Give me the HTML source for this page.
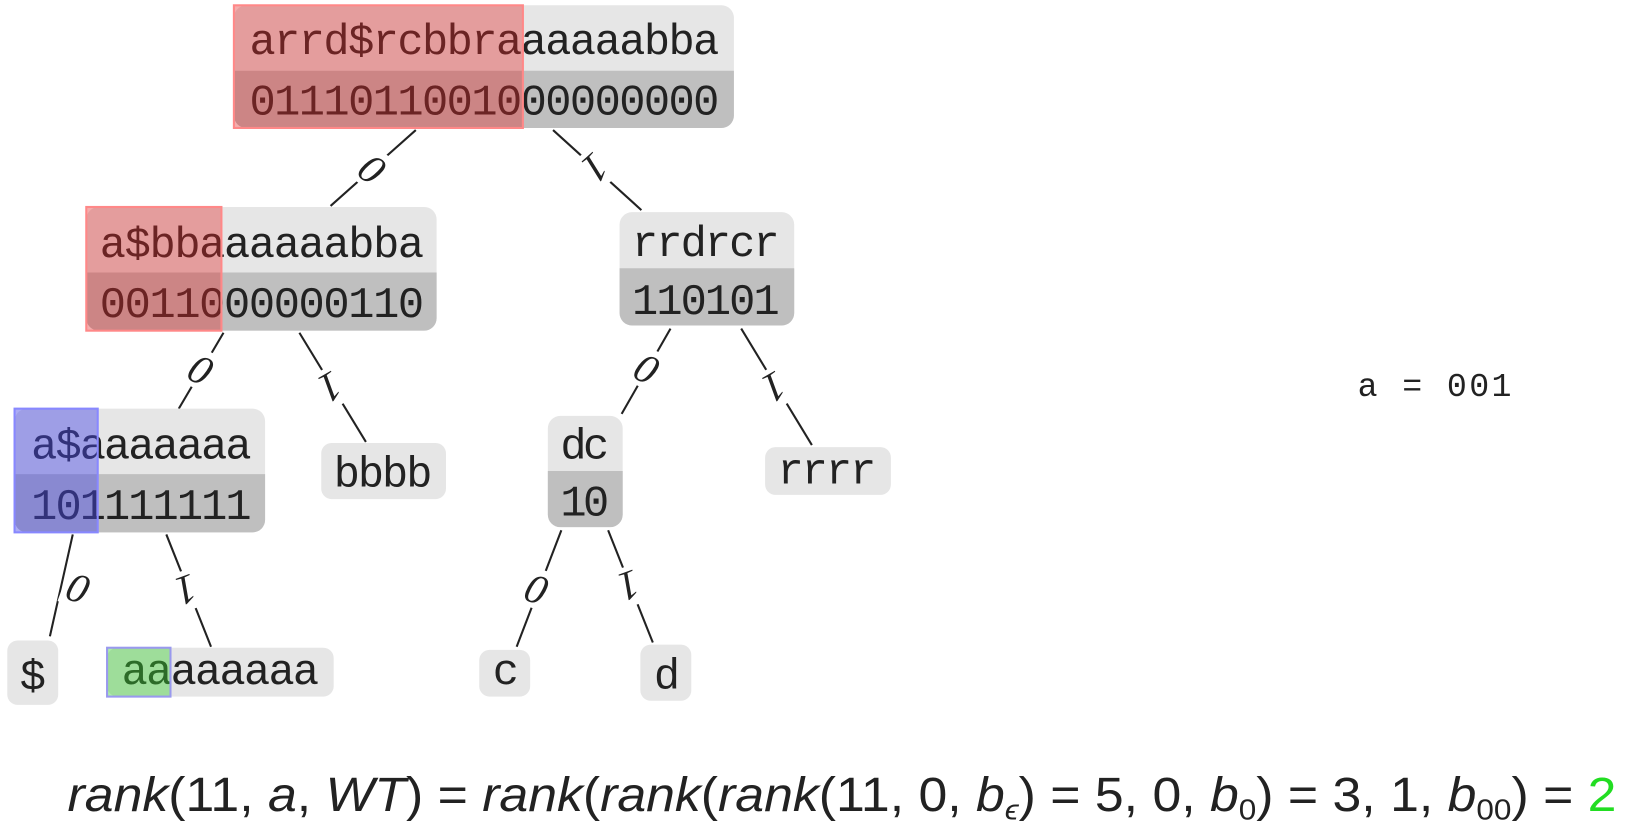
<!DOCTYPE html>
<html><head><meta charset="utf-8"><style>
html,body{margin:0;padding:0;background:#fff;width:1630px;height:836px;overflow:hidden}
svg{display:block}
.m{font-family:"Liberation Mono","DejaVu Sans Mono",monospace;font-size:42px;fill:#222}
.l{font-family:"Liberation Serif",serif;font-style:italic;font-size:40px;fill:#222}
</style></head><body>
<svg width="1630" height="836" viewBox="0 0 1568 804" xmlns="http://www.w3.org/2000/svg">
<g stroke="#222" stroke-width="2">
<line x1="400" y1="125" x2="318" y2="198"/>
<line x1="532" y1="125" x2="617" y2="202"/>
<line x1="215" y1="320" x2="172" y2="393"/>
<line x1="288" y1="320" x2="352" y2="425"/>
<line x1="645" y1="316" x2="598" y2="398"/>
<line x1="713" y1="316" x2="781" y2="428"/>
<line x1="70" y1="514" x2="48" y2="612"/>
<line x1="160" y1="514" x2="203" y2="622"/>
<line x1="540" y1="510" x2="497" y2="622"/>
<line x1="585" y1="510" x2="628" y2="618"/>
</g>
<g class="l" text-anchor="middle">
<g transform="translate(358,162) rotate(38)"><rect x="-14" y="-19" width="28" height="38" fill="#fff"/><text y="14">0</text></g>
<g transform="translate(573,162) rotate(138)"><rect x="-14" y="-19" width="28" height="38" fill="#fff"/><text y="14">1</text></g>
<g transform="translate(193,355) rotate(28)"><rect x="-14" y="-19" width="28" height="38" fill="#fff"/><text y="14">0</text></g>
<g transform="translate(318,373) rotate(150)"><rect x="-14" y="-19" width="28" height="38" fill="#fff"/><text y="14">1</text></g>
<g transform="translate(622,354) rotate(28)"><rect x="-14" y="-19" width="28" height="38" fill="#fff"/><text y="14">0</text></g>
<g transform="translate(745,373) rotate(150)"><rect x="-14" y="-19" width="28" height="38" fill="#fff"/><text y="14">1</text></g>
<g transform="translate(75,565) rotate(20)"><rect x="-14" y="-19" width="28" height="38" fill="#fff"/><text y="14">0</text></g>
<g transform="translate(179,568) rotate(160)"><rect x="-14" y="-19" width="28" height="38" fill="#fff"/><text y="14">1</text></g>
<g transform="translate(516,566) rotate(20)"><rect x="-14" y="-19" width="28" height="38" fill="#fff"/><text y="14">0</text></g>
<g transform="translate(605,564) rotate(160)"><rect x="-14" y="-19" width="28" height="38" fill="#fff"/><text y="14">1</text></g>
</g>
<!-- root -->
<rect x="225" y="5" width="481" height="118" rx="12" fill="#e6e6e6"/>
<path d="M225 68 H706 V111 a12 12 0 0 1 -12 12 H237 a12 12 0 0 1 -12 -12Z" fill="#bfbfbf"/>
<text class="m" x="240" y="52" textLength="452">arrd$rcbbraaaaaabba</text>
<text class="m" x="240" y="110" textLength="452">0111011001000000000</text>
<rect x="225" y="5" width="278" height="118" fill="rgba(225,40,40,0.38)" stroke="#f88" stroke-width="2"/>
<!-- a$bba -->
<rect x="83" y="199" width="337" height="119" rx="12" fill="#e6e6e6"/>
<path d="M83 262 H420 V306 a12 12 0 0 1 -12 12 H95 a12 12 0 0 1 -12 -12Z" fill="#bfbfbf"/>
<text class="m" x="96" y="247" textLength="312">a$bbaaaaaabba</text>
<text class="m" x="96" y="305" textLength="312">0011000000110</text>
<rect x="83" y="199" width="130" height="119" fill="rgba(225,40,40,0.38)" stroke="#f88" stroke-width="2"/>
<!-- rrdrcr -->
<rect x="596" y="204" width="168" height="109" rx="12" fill="#e6e6e6"/>
<path d="M596 258 H764 V301 a12 12 0 0 1 -12 12 H608 a12 12 0 0 1 -12 -12Z" fill="#bfbfbf"/>
<text class="m" x="608" y="246" textLength="142">rrdrcr</text>
<text class="m" x="608" y="302" textLength="142">110101</text>
<!-- a$a -->
<rect x="14" y="393" width="241" height="119" rx="12" fill="#e6e6e6"/>
<path d="M14 456 H255 V500 a12 12 0 0 1 -12 12 H26 a12 12 0 0 1 -12 -12Z" fill="#bfbfbf"/>
<text class="m" x="30" y="441" textLength="212">a$aaaaaaa</text>
<text class="m" x="30" y="499" textLength="212">101111111</text>
<rect x="14" y="393" width="80" height="119" fill="rgba(70,70,230,0.45)" stroke="#88f" stroke-width="2"/>
<!-- bbbb -->
<rect x="309" y="426" width="120" height="54" rx="10" fill="#e6e6e6"/>
<text class="m" x="321" y="468" textLength="95">bbbb</text>
<!-- dc -->
<rect x="527" y="400" width="72" height="107" rx="12" fill="#e6e6e6"/>
<path d="M527 453 H599 V495 a12 12 0 0 1 -12 12 H539 a12 12 0 0 1 -12 -12Z" fill="#bfbfbf"/>
<text class="m" x="539" y="441" textLength="47">dc</text>
<text class="m" x="539" y="496" textLength="47">10</text>
<!-- rrrr -->
<rect x="736" y="430" width="121" height="46" rx="10" fill="#e6e6e6"/>
<text class="m" x="748" y="465" textLength="95">rrrr</text>
<!-- leaves -->
<rect x="7" y="616" width="49" height="62" rx="10" fill="#e6e6e6"/>
<text class="m" x="19" y="663" textLength="24">$</text>
<rect x="103" y="623" width="218" height="47" rx="10" fill="#e6e6e6"/>
<text class="m" x="117" y="658" textLength="190">aaaaaaaa</text>
<rect x="103" y="623" width="61" height="47" fill="rgba(60,210,50,0.42)" stroke="#99e" stroke-width="2"/>
<rect x="461" y="625" width="49" height="45" rx="10" fill="#e6e6e6"/>
<text class="m" x="474" y="658" textLength="24">c</text>
<rect x="616" y="620" width="49" height="54" rx="10" fill="#e6e6e6"/>
<text class="m" x="629" y="662" textLength="24">d</text>
<text class="m" x="1306" y="381" style="font-size:32px" textLength="148">a = 001</text>
<text x="65" y="780" textLength="1490" lengthAdjust="spacingAndGlyphs" style="font-family:'Liberation Sans',sans-serif;font-size:46px;fill:#222"><tspan font-style="italic">rank</tspan>(11, <tspan font-style="italic">a</tspan>, <tspan font-style="italic">WT</tspan>) = <tspan font-style="italic">rank</tspan>(<tspan font-style="italic">rank</tspan>(<tspan font-style="italic">rank</tspan>(11, 0, <tspan font-style="italic">b</tspan><tspan font-size="28" dy="8" font-style="italic">ϵ</tspan><tspan dy="-8">) = 5, 0, </tspan><tspan font-style="italic">b</tspan><tspan font-size="28" dy="8">0</tspan><tspan dy="-8">) = 3, 1, </tspan><tspan font-style="italic">b</tspan><tspan font-size="28" dy="8">00</tspan><tspan dy="-8">) = </tspan><tspan fill="#22dd22">2</tspan></text>
</svg>
</body></html>
